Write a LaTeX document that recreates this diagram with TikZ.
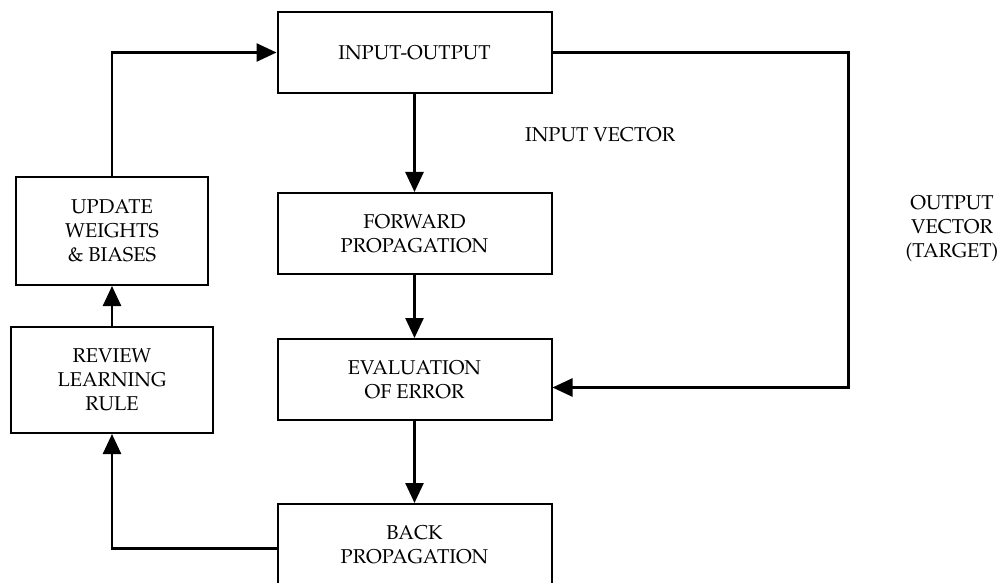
\documentclass[tikz,border=0pt]{standalone}
\usepackage[T1]{fontenc}
\usepackage{mathpazo}
\usetikzlibrary{arrows.meta,positioning}

\begin{document}
\begin{tikzpicture}[
    x=0.5pt, y=-0.5pt,
    >={Triangle[length=10pt,width=9pt]},
    box/.style={
        rectangle,
        draw=black,
        line width=1pt,
        minimum width=137pt,
        minimum height=40.5pt,
        align=center,
        font=\fontsize{10}{12}\selectfont
    },
    flow/.style={->, line width=1.3pt},
    lbl/.style={align=center, font=\fontsize{10}{12}\selectfont}
]
\useasboundingbox (0,0) rectangle (1002,583);
\node[box] (io) at (414.5,52.5) {INPUT-OUTPUT};
\node[box, below=49pt of io] (fwd) {FORWARD\\PROPAGATION};
\node[box, below=31.5pt of fwd] (eval) {EVALUATION\\OF ERROR};
\node[box, below=41pt of eval] (back) {BACK\\PROPAGATION};
\node[box, minimum width=96pt, minimum height=54pt] (update) at (112,231) {UPDATE\\WEIGHTS\\\& BIASES};
\node[box, minimum width=101pt, minimum height=53pt, below=20pt of update] (review) {REVIEW\\LEARNING\\RULE};

\node[lbl, anchor=west] (invec) at (518,135) {INPUT VECTOR};
\node[lbl] (outvec) at (952,229) {OUTPUT\\VECTOR\\(TARGET)};

\draw[flow] (io) -- (fwd);
\draw[flow] (fwd) -- (eval);
\draw[flow] (eval) -- (back);
\draw[flow] (review) -- (update);
\draw[flow] (update.north) |- (io.west);
\draw[flow] (io.east) -- ++(296,0) |- ([yshift=-4pt]eval.east);
\draw[flow] ([yshift=-2pt]back.west) -| (review.south);
\end{tikzpicture}
\end{document}
